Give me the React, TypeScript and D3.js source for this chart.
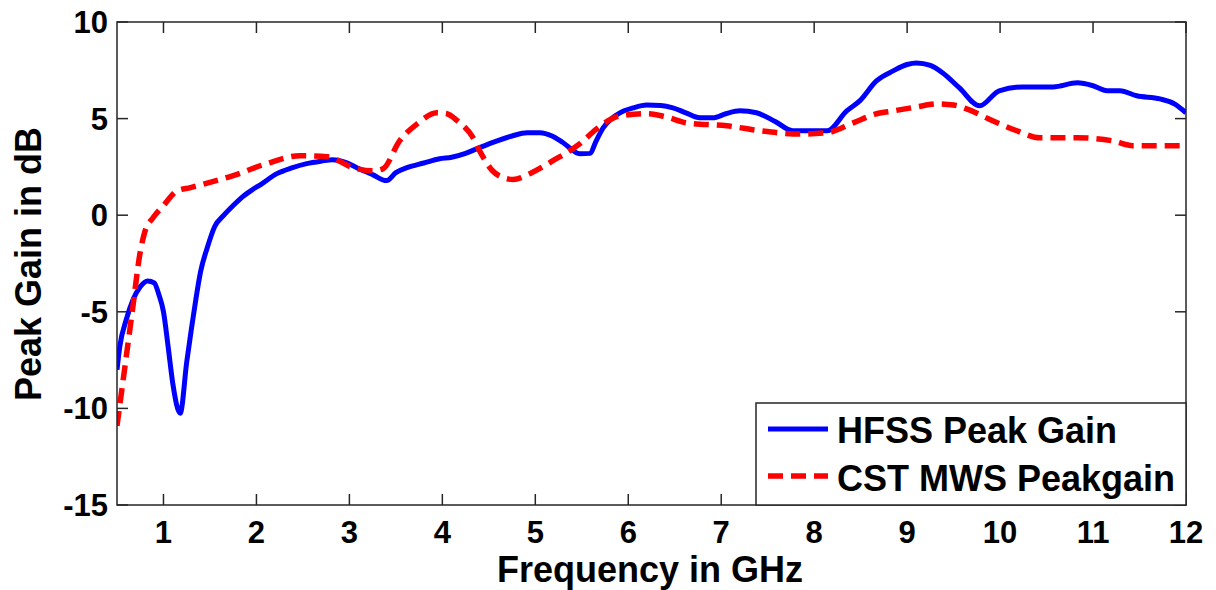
import React from "react";
import * as d3 from "d3";

const hfssFreq = [0.5, 0.53, 0.6, 0.67, 0.75, 0.83, 0.9, 0.95, 1.0, 1.05, 1.1, 1.18, 1.25, 1.3, 1.35, 1.4, 1.47, 1.55, 1.65, 1.75, 1.85, 1.95, 2.05, 2.22, 2.38, 2.54, 2.7, 2.82, 2.95, 3.08, 3.25, 3.4, 3.5, 3.62, 3.8, 3.97, 4.1, 4.25, 4.4, 4.59, 4.75, 4.91, 5.05, 5.18, 5.3, 5.48, 5.59, 5.65, 5.73, 5.82, 5.91, 6.05, 6.2, 6.35, 6.48, 6.62, 6.77, 6.91, 7.05, 7.2, 7.38, 7.58, 7.77, 7.95, 8.14, 8.35, 8.49, 8.67, 8.85, 9.0, 9.1, 9.25, 9.38, 9.56, 9.78, 9.99, 10.24, 10.57, 10.83, 11.0, 11.15, 11.29, 11.47, 11.72, 11.88, 12.0];
const hfssGain = [-8.0, -6.8, -5.4, -4.4, -3.7, -3.4, -3.5, -4.1, -5.0, -6.8, -8.7, -10.25, -7.6, -5.9, -4.3, -2.9, -1.7, -0.6, 0.0, 0.5, 0.95, 1.3, 1.6, 2.15, 2.45, 2.67, 2.8, 2.87, 2.75, 2.46, 2.1, 1.79, 2.2, 2.46, 2.7, 2.92, 3.0, 3.2, 3.5, 3.85, 4.1, 4.27, 4.27, 4.1, 3.75, 3.18, 3.2, 3.8, 4.52, 5.0, 5.3, 5.55, 5.7, 5.68, 5.56, 5.3, 5.04, 5.04, 5.25, 5.4, 5.3, 4.85, 4.37, 4.37, 4.37, 5.4, 5.92, 6.95, 7.47, 7.8, 7.88, 7.75, 7.37, 6.6, 5.66, 6.44, 6.64, 6.64, 6.85, 6.7, 6.44, 6.44, 6.18, 6.02, 5.75, 5.3];

const cstFreq = [0.5, 0.59, 0.67, 0.75, 0.8, 0.89, 1.0, 1.15, 1.29, 1.5, 1.75, 2.11, 2.47, 2.76, 3.04, 3.25, 3.36, 3.54, 3.73, 3.94, 4.05, 4.16, 4.33, 4.4, 4.54, 4.65, 4.76, 4.94, 5.19, 5.48, 5.66, 5.91, 6.2, 6.4, 6.63, 7.06, 7.42, 7.85, 8.14, 8.42, 8.67, 8.85, 9.1, 9.32, 9.5, 9.64, 9.92, 10.18, 10.43, 10.83, 11.21, 11.43, 12.0];
const cstGain = [-10.9, -7.67, -4.77, -1.9, -0.85, -0.12, 0.5, 1.27, 1.43, 1.7, 2.05, 2.67, 3.08, 3.03, 2.46, 2.3, 2.4, 3.85, 4.73, 5.3, 5.25, 4.89, 4.01, 3.34, 2.3, 1.95, 1.85, 2.15, 2.82, 3.7, 4.47, 5.14, 5.25, 5.1, 4.78, 4.63, 4.37, 4.2, 4.27, 4.78, 5.25, 5.4, 5.6, 5.76, 5.7, 5.5, 4.89, 4.37, 4.01, 4.01, 3.85, 3.6, 3.6];

const xTicks = [1, 2, 3, 4, 5, 6, 7, 8, 9, 10, 11, 12];
const yTicks = [-15, -10, -5, 0, 5, 10];
const seriesNames = ["HFSS Peak Gain", "CST MWS Peakgain"];

const W = 1216;
const H = 590;
const L = 117, R = 1186, T = 22, B = 505;
const FONT = "'Liberation Sans', Arial, Helvetica, sans-serif";

export default function App() {
  const x = d3.scaleLinear().domain([0.5, 12]).range([L, R]);
  const y = d3.scaleLinear().domain([-15, 10]).range([B, T]);
  const line = d3
    .line<[number, number]>()
    .x((d) => x(d[0]))
    .y((d) => y(d[1]))
    .curve(d3.curveMonotoneX);
  const hfss = hfssFreq.map((f, i) => [f, hfssGain[i]] as [number, number]);
  const cst = cstFreq.map((f, i) => [f, cstGain[i]] as [number, number]);
  const tickLen = 11;
  const axisColor = "#262626";

  const legX = 756, legY = 403, legW = R - 756, legH = B - 403;

  return (
    <svg
      width={W}
      height={H}
      style={{ position: "absolute", left: 0, top: 0, background: "#fff" }}
      fontFamily={FONT}
      fontWeight="bold"
    >
      <rect x={0} y={0} width={W} height={H} fill="#fff" />
      <defs>
        <clipPath id="plotclip">
          <rect x={L} y={T} width={R - L} height={B - T} />
        </clipPath>
      </defs>
      {xTicks.map((t) => (
        <g key={"xt" + t}>
          <line x1={x(t)} x2={x(t)} y1={B} y2={B - tickLen} stroke={axisColor} strokeWidth={1.5} />
          <line x1={x(t)} x2={x(t)} y1={T} y2={T + tickLen} stroke={axisColor} strokeWidth={1.5} />
          <text x={x(t)} y={543} textAnchor="middle" fontSize={31} fill="#000">
            {t}
          </text>
        </g>
      ))}
      {yTicks.map((t) => (
        <g key={"yt" + t}>
          <line x1={L} x2={L + tickLen} y1={y(t)} y2={y(t)} stroke={axisColor} strokeWidth={1.5} />
          <line x1={R} x2={R - tickLen} y1={y(t)} y2={y(t)} stroke={axisColor} strokeWidth={1.5} />
          <text x={108} y={y(t) + 11} textAnchor="end" fontSize={31} fill="#000">
            {t}
          </text>
        </g>
      ))}
      <g clipPath="url(#plotclip)">
        <path d={line(hfss) || ""} fill="none" stroke="#0000ff" strokeWidth={5} strokeLinejoin="round" />
        <path d={line(cst) || ""} fill="none" stroke="#ff0000" strokeWidth={5.5} strokeDasharray="15 8" />
      </g>
      <rect x={L} y={T} width={R - L} height={B - T} fill="none" stroke={axisColor} strokeWidth={1.5} />
      <rect x={legX} y={legY} width={legW} height={legH} fill="#fff" stroke={axisColor} strokeWidth={1.5} />
      <line x1={768} x2={828} y1={429} y2={429} stroke="#0000ff" strokeWidth={5} />
      <line x1={768} x2={828} y1={476} y2={476} stroke="#ff0000" strokeWidth={5.5} strokeDasharray="15 8" />
      <text x={837} y={443} fontSize={36} fill="#000">{seriesNames[0]}</text>
      <text x={837} y={491} fontSize={36} fill="#000">{seriesNames[1]}</text>
      <text x={650} y={582} textAnchor="middle" fontSize={36} fill="#000">
        Frequency in GHz
      </text>
      <text
        transform={`translate(41,264) rotate(-90)`}
        textAnchor="middle"
        fontSize={36}
        fill="#000"
      >
        Peak Gain in dB
      </text>
    </svg>
  );
}
